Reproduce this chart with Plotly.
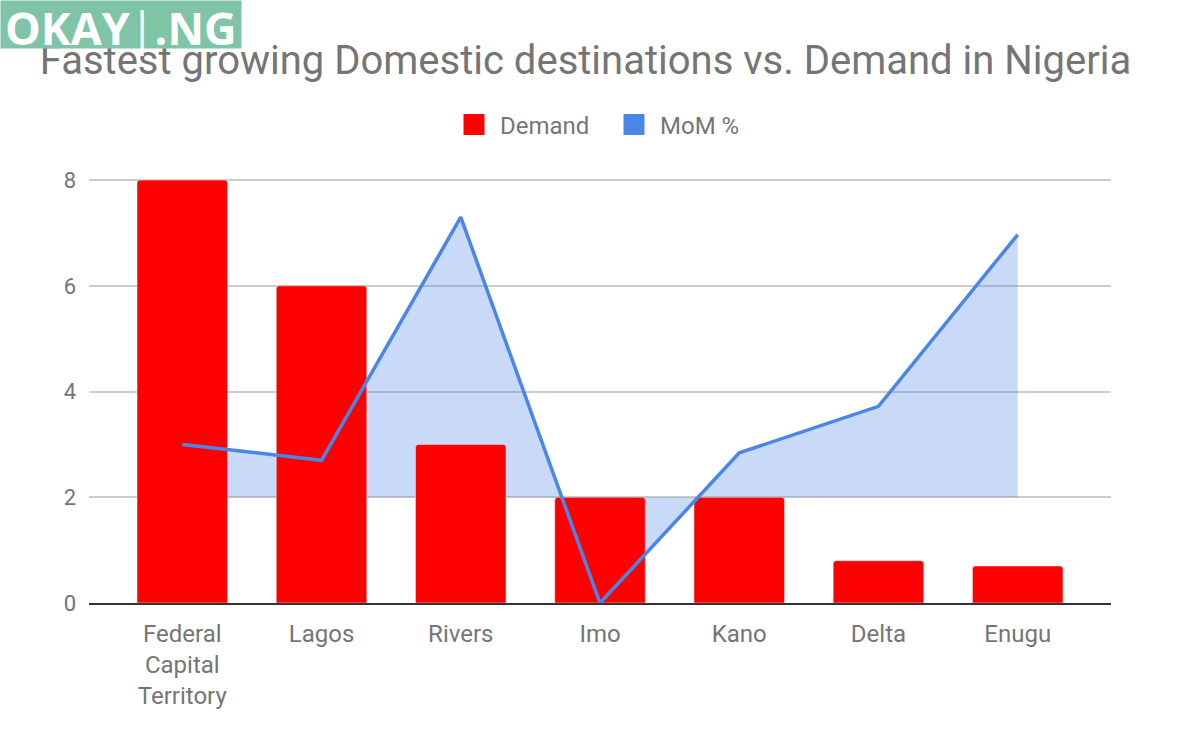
import plotly.graph_objects as go

categories = ["Federal<br>Capital<br>Territory", "Lagos", "Rivers", "Imo", "Kano", "Delta", "Enugu"]
demand = [8, 6, 3, 2, 2, 0.8, 0.7]
mom_pct = [3.0, 2.7, 7.3, 0.0, 2.84, 3.72, 6.97]
area_baseline = [2, 2, 2, 2, 2, 2, 2]
y_ticks = [0, 2, 4, 6, 8]

RED = "#ff0000"
BLUE = "#4a86e8"
GRAY = "#757575"
FONT = "Roboto"

fig = go.Figure()

# area fill (main subplot, beneath the bars)
fig.add_trace(go.Scatter(x=categories, y=area_baseline, mode="lines",
                         line=dict(width=0, color=BLUE), showlegend=False,
                         hoverinfo="skip", xaxis="x", yaxis="y"))
fig.add_trace(go.Scatter(x=categories, y=mom_pct, mode="lines",
                         line=dict(width=0, color=BLUE), fill="tonexty",
                         fillcolor="rgba(74,134,232,0.3)", showlegend=False,
                         hoverinfo="skip", xaxis="x", yaxis="y"))

# bars + line on overlay subplot
fig.add_trace(go.Bar(x=categories, y=demand, name="Demand", marker_color=RED,
                     marker_cornerradius=3, width=0.65, showlegend=False,
                     xaxis="x2", yaxis="y2"))
fig.add_trace(go.Scatter(x=categories, y=mom_pct, mode="lines", name="MoM %",
                         line=dict(width=3.5, color=BLUE), showlegend=False,
                         xaxis="x2", yaxis="y2"))

# legend entries
fig.add_trace(go.Scatter(x=[None], y=[None], mode="markers", name="Demand",
                         marker=dict(symbol="square", size=16, color=RED,
                                     line=dict(color=RED, width=5)),
                         xaxis="x2", yaxis="y2"))
fig.add_trace(go.Scatter(x=[None], y=[None], mode="markers", name="MoM %",
                         marker=dict(symbol="square", size=16, color=BLUE,
                                     line=dict(color=BLUE, width=5)),
                         xaxis="x2", yaxis="y2"))

xr = [-0.67, 6.67]
yr = [0, 8.04]
TOP = 178
PLOT_H = 742 - TOP - 139

fig.update_layout(
    width=1200, height=742,
    paper_bgcolor="white", plot_bgcolor="white",
    margin=dict(l=89, r=89, t=TOP, b=139),
    font=dict(family=FONT, color=GRAY),
    title=dict(text="Fastest growing Domestic destinations vs. Demand in Nigeria",
               font=dict(family=FONT, size=40, color=GRAY),
               x=585.5 / 1200, xanchor="center", xref="container",
               y=1 - 60 / 742, yanchor="middle"),
    legend=dict(orientation="h", x=0.5 + 8 / 1200, xanchor="center", xref="container",
                y=1 - 125 / 742, yanchor="middle", yref="container",
                font=dict(size=24, color=GRAY), itemwidth=42,
                entrywidth=103, entrywidthmode="pixels",
                bgcolor="rgba(0,0,0,0)", traceorder="normal"),
    showlegend=True,
    xaxis=dict(range=xr, type="category", showgrid=False, showline=True,
               linecolor="#333333", linewidth=2, ticks="",
               tickfont=dict(size=24, color=GRAY), ticklabelstandoff=8),
    yaxis=dict(range=yr, tickvals=y_ticks, showgrid=True, gridcolor="#cccccc",
               gridwidth=1.5, zeroline=False, showline=False, ticks="",
               tickfont=dict(size=22, color=GRAY), ticklabelstandoff=12),
    xaxis2=dict(range=xr, type="category", overlaying="x", matches="x",
                visible=False),
    yaxis2=dict(range=yr, overlaying="y", matches="y", visible=False),
    annotations=[
        dict(text=" ", xref="paper", yref="paper",
             x=-89 / 1022, y=1 + TOP / PLOT_H, xanchor="left", yanchor="top",
             showarrow=False, bgcolor="#7fc4a7", width=240, height=47,
             borderpad=0),
        dict(text="<b>OKAY</b>|<b>.NG</b>", xref="paper", yref="paper",
             x=(121 - 89) / 1022, y=1 + (TOP - 27) / PLOT_H,
             xanchor="center", yanchor="middle", showarrow=False,
             font=dict(family="Open Sans", size=45, color="white")),
    ],
)

fig.write_html("out.html", config={"displayModeBar": False},
               post_script="document.body.style.margin='0';")
